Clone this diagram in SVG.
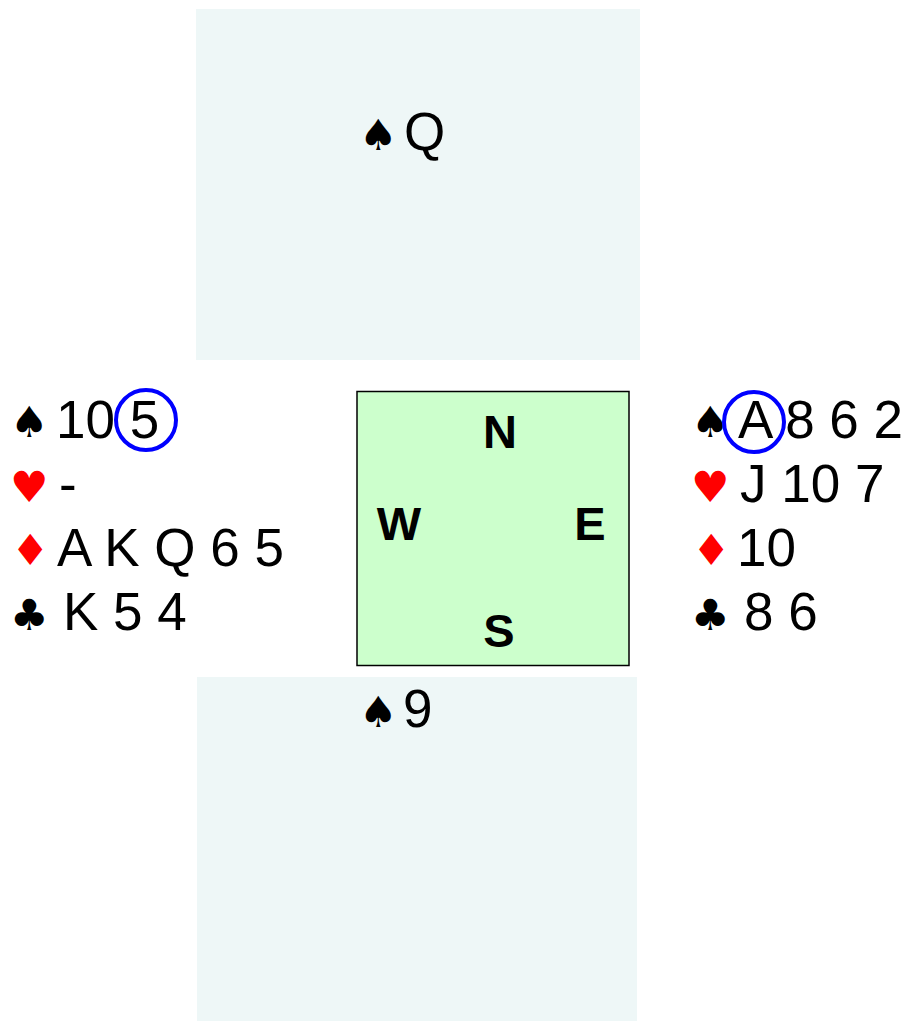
<svg xmlns="http://www.w3.org/2000/svg" width="910" height="1021" viewBox="0 0 910 1021">
<style>
.panel{fill:#eef7f7}
.card{font-family:"Liberation Sans",Arial,sans-serif;font-size:53px;fill:#000}
.suit{font-family:"DejaVu Sans",sans-serif;font-size:43px}
.blk{fill:#000}
.red{fill:#ff0000}
.dir{font-family:"Liberation Sans",Arial,sans-serif;font-size:47px;font-weight:bold;fill:#000;text-anchor:middle}
.ring{fill:none;stroke:#0000ff;stroke-width:4}
</style>
<rect width="910" height="1021" fill="#ffffff"/>
<g id="north">
<rect class="panel" x="196" y="9" width="444" height="351"/>
<text class="suit blk" x="359" y="150">♠</text>
<text class="card" x="404" y="150">Q</text>
</g>
<g id="south">
<rect class="panel" x="197" y="677" width="440" height="344"/>
<text class="suit blk" x="359" y="727">♠</text>
<text class="card" x="403" y="727">9</text>
</g>
<g id="table">
<rect x="357" y="391.5" width="272" height="274" fill="#ccffcc" stroke="#000" stroke-width="1.5"/>
<text class="dir" x="500" y="448">N</text>
<text class="dir" x="399" y="540">W</text>
<text class="dir" x="590" y="540">E</text>
<text class="dir" x="499" y="647">S</text>
</g>
<g id="west">
<text class="suit blk" x="10" y="437">♠</text>
<text class="card" x="56" y="438">10 5</text>
<circle class="ring" cx="146" cy="420" r="30"/>
<text class="suit red" x="10" y="502">♥</text>
<text class="card" x="59" y="502">-</text>
<text class="suit red" x="11" y="565">♦</text>
<text class="card" x="57" y="566">A K Q 6 5</text>
<text class="suit blk" x="10" y="630">♣</text>
<text class="card" x="63" y="630">K 5 4</text>
</g>
<g id="east">
<text class="suit blk" x="691" y="437">♠</text>
<text class="card" x="738" y="438">A 8 6 2</text>
<circle class="ring" cx="754" cy="422" r="30"/>
<text class="suit red" x="691" y="502">♥</text>
<text class="card" x="740" y="502">J 10 7</text>
<text class="suit red" x="692" y="565">♦</text>
<text class="card" x="737" y="566">10</text>
<text class="suit blk" x="691" y="630">♣</text>
<text class="card" x="744" y="630">8 6</text>
</g>
</svg>
